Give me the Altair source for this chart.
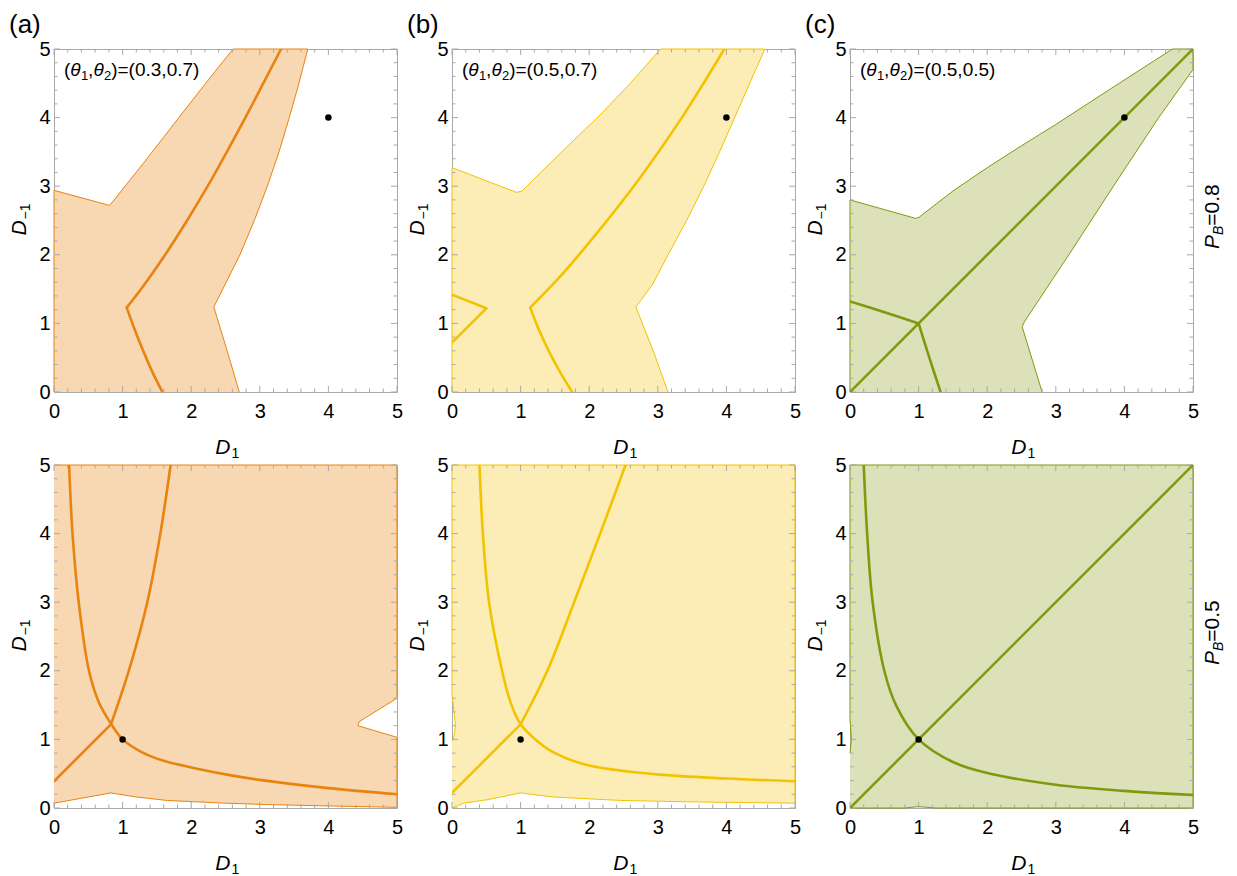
import altair as alt
import pandas as pd

W = H = 343
FONT = "Liberation Sans"
FRAME = "#a9a9a9"

ORANGE_LINE, ORANGE_FILL = "#E8830F", "#F8D8B3"
YELLOW_LINE, YELLOW_FILL = "#F3C300", "#FCEDB6"
GREEN_LINE, GREEN_FILL = "#7F9A0F", "#DCE1BA"

MAJOR = [0, 1, 2, 3, 4, 5]
MINOR = [0.2, 0.4, 0.6, 0.8, 1.2, 1.4, 1.6, 1.8, 2.2, 2.4, 2.6, 2.8,
         3.2, 3.4, 3.6, 3.8, 4.2, 4.4, 4.6, 4.8]

# ---------------- top row: P_B = 0.8 ----------------
A1_REG_X = [0, 0, 0.81, 0.90, 1.30, 1.82, 2.25, 2.61, 3.70, 3.57, 3.43, 3.28, 3.11, 2.92, 2.71, 2.49, 2.33, 2.53, 2.70]
A1_REG_Y = [0, 2.94, 2.72, 2.83, 3.33, 4.00, 4.55, 5.00, 5.00, 4.50, 4.00, 3.50, 3.00, 2.50, 2.00, 1.56, 1.24, 0.58, 0]
A1_LOW_X = [1.58, 1.43, 1.30, 1.18, 1.06]
A1_LOW_Y = [0, 0.30, 0.60, 0.90, 1.23]
A1_UP_X = [1.06, 1.27, 1.62, 1.94, 2.24, 2.52, 2.79, 3.05, 3.31]
A1_UP_Y = [1.23, 1.50, 2.00, 2.50, 3.00, 3.50, 4.00, 4.50, 5.00]

B1_REG_X = [0, 0, 0.94, 1.02, 1.63, 2.16, 2.60, 3.04, 4.56, 4.34, 4.12, 3.90, 3.67, 3.42, 3.15, 2.92, 2.68, 2.94, 3.15]
B1_REG_Y = [0, 3.27, 2.91, 2.93, 3.53, 4.04, 4.50, 5.00, 5.00, 4.50, 4.00, 3.50, 3.00, 2.50, 2.00, 1.56, 1.24, 0.58, 0]
B1_LOW_X = [1.75, 1.57, 1.41, 1.27, 1.14]
B1_LOW_Y = [0, 0.30, 0.60, 0.90, 1.23]
B1_UP_X = [1.14, 1.50, 1.85, 2.65, 3.35, 3.97]
B1_UP_Y = [1.23, 1.60, 2.00, 3.00, 4.00, 5.00]
B1_WEDGE_TOP_X = [0, 0.50]
B1_WEDGE_TOP_Y = [1.42, 1.22]
B1_WEDGE_BOT_X = [0, 0.50]
B1_WEDGE_BOT_Y = [0.72, 1.22]

C1_REG_X = [0, 0, 0.96, 1.01, 1.50, 2.00, 2.50, 3.00, 3.80, 4.70, 5, 5, 4.50, 3.84, 3.19, 2.54, 2.51, 2.80]
C1_REG_Y = [0, 2.80, 2.53, 2.55, 2.93, 3.27, 3.59, 3.90, 4.42, 5.00, 5.00, 4.70, 4.00, 3.00, 2.00, 1.02, 0.95, 0]
C1_DIAG_X = [0, 5]
C1_DIAG_Y = [0, 5]
C1_LEFT_X = [0, 0.48, 1.0]
C1_LEFT_Y = [1.32, 1.17, 1.0]
C1_DOWN_X = [1.0, 1.16, 1.32]
C1_DOWN_Y = [1.0, 0.49, 0]

# ---------------- bottom row: P_B = 0.5 ----------------
A2_REG_X = [0, 0.83, 1.20, 1.65, 2.50, 3.10, 4.00, 5, 5, 4.43, 4.45, 5, 5, 0]
A2_REG_Y = [0.07, 0.22, 0.16, 0.11, 0.07, 0.05, 0.03, 0.01, 1.03, 1.20, 1.26, 1.60, 5, 5]
A2_HYP_X = [0.22, 0.27, 0.36, 0.51, 0.65, 0.83, 1.0, 1.25, 1.5, 2.0, 2.5, 3.0, 4.0, 5.0]
A2_HYP_Y = [5, 4, 3, 2, 1.55, 1.23, 1.0, 0.83, 0.72, 0.59, 0.49, 0.41, 0.29, 0.20]
A2_RISE_LOW_X = [0, 0.83]
A2_RISE_LOW_Y = [0.39, 1.22]
A2_RISE_UP_X = [0.83, 1.09, 1.36, 1.55, 1.70]
A2_RISE_UP_Y = [1.22, 2.0, 3.0, 4.0, 5.0]

B2_REG_X = [0, 0.17, 0.51, 1.0, 1.48, 2.46, 3.43, 5, 5, 0, 0, 0.03, 0.05, 0.03, 0]
B2_REG_Y = [0, 0.07, 0.12, 0.22, 0.16, 0.11, 0.09, 0.07, 5, 5, 1.65, 1.40, 1.20, 1.05, 0.97]
B2_HYP_X = [0.40, 0.45, 0.54, 0.73, 0.85, 1.0, 1.25, 1.5, 2.0, 3.0, 4.0, 5.0]
B2_HYP_Y = [5, 4, 3, 2, 1.55, 1.22, 0.97, 0.80, 0.62, 0.49, 0.43, 0.39]
B2_RISE_LOW_X = [0, 1.0]
B2_RISE_LOW_Y = [0.22, 1.22]
B2_RISE_UP_X = [1.0, 1.39, 1.78, 2.16, 2.53]
B2_RISE_UP_Y = [1.22, 2.0, 3.0, 4.0, 5.0]

C2_REG_X = [0, 0.80, 1.00, 1.25, 5, 5, 0, 0, 0.02, 0]
C2_REG_Y = [0, 0, 0.02, 0, 0, 5, 5, 1.30, 1.00, 0.80]
C2_HYP_X = [0.20, 0.25, 0.33, 0.50, 0.67, 1.0, 1.5, 2.0, 3.0, 4.0, 5.0]
C2_HYP_Y = [5, 4, 3, 2, 1.5, 1.0, 0.67, 0.51, 0.34, 0.25, 0.19]
C2_DIAG_X = [0, 5]
C2_DIAG_Y = [0, 5]

DOT_TOP = (4, 4)
DOT_BOTTOM = (1, 1)

THETA_VALUES = ["(0.3,0.7)", "(0.5,0.7)", "(0.5,0.5)"]
LABELS = ["(a)", "(b)", "(c)"]
PB = ["=0.8", "=0.5"]

# Arial / Liberation Sans advance widths (em) for the few characters used in rich labels
ADV = {"(": 0.333, ")": 0.333, ",": 0.278, ".": 0.278, "=": 0.584, "θ": 0.556,
       "0": 0.556, "1": 0.556, "2": 0.556, "3": 0.556, "5": 0.556, "7": 0.556, "8": 0.556,
       "P": 0.667, "B": 0.667, "D": 0.722}

XS = alt.Scale(domain=[0, 5], nice=False, zero=False)
YS = alt.Scale(domain=[0, 5], nice=False, zero=False)

XAXIS = alt.Axis(values=MAJOR, format="d", ticks=False, tickSize=0, domain=False, grid=False,
                 labelFont=FONT, labelFontSize=20, labelColor="black", labelPadding=9,
                 labelFlush=False, labelOverlap=False, title=None)
YAXIS = alt.Axis(values=MAJOR, format="d", ticks=False, tickSize=0, domain=False, grid=False,
                 labelFont=FONT, labelFontSize=20, labelColor="black", labelPadding=4,
                 labelFlush=False, labelOverlap=False, title=None)


def poly_df(xs, ys):
    return pd.DataFrame({"x": xs, "y": ys, "i": list(range(len(xs)))})


def curves_df(segs):
    rows = []
    for k, (xs, ys) in enumerate(segs):
        for i, (x, y) in enumerate(zip(xs, ys)):
            rows.append({"x": x, "y": y, "i": i, "seg": k})
    return pd.DataFrame(rows)


def one_text(s):
    return pd.DataFrame({"s": [s]})


def X(f="x"):
    return alt.X(f + ":Q", scale=XS, axis=XAXIS)


def Y(f="y"):
    return alt.Y(f + ":Q", scale=YS, axis=YAXIS)


def txt(s, x, y, size, style="normal", align="left", baseline="alphabetic", angle=0, opacity=1):
    return (alt.Chart(one_text(s))
            .mark_text(font=FONT, fontSize=size, fontStyle=style, align=align, baseline=baseline,
                       angle=angle, color="black", opacity=opacity)
            .encode(text="s:N", x=alt.value(x), y=alt.value(y)))


def width(s, size):
    return sum(ADV.get(c, 0.556) for c in s) * size


def theta_label(value, x0, y0):
    """(θ1,θ2)=value with italic θ and real subscripts, laid out left to right."""
    f, fs = 19, 13
    pieces = [("(", f, "normal", 0), ("θ", f, "italic", 0), ("1", fs, "normal", 4),
              (",", f, "normal", 0), ("θ", f, "italic", 0), ("2", fs, "normal", 4),
              (")=" + value, f, "normal", 0)]
    out, x = [], x0
    for s, size, style, dy in pieces:
        out.append(txt(s, x, y0 + dy, size, style=style))
        x += width(s, size)
    return out


def panel(region, segs, dot, line_c, fill_c, label, theta, pb, top):
    layers = []
    layers.append(
        alt.Chart(poly_df(*region)).mark_line(fill=fill_c, stroke=line_c, strokeWidth=1,
                                              strokeJoin="round")
        .encode(x=X(), y=Y(), order="i:Q")
    )
    for vals, ln in [(MAJOR, 6), (MINOR, 3.5)]:
        tdf = pd.DataFrame({"x": vals, "y": vals})
        base = alt.Chart(tdf).mark_rule(color=FRAME, strokeWidth=1)
        layers.append(base.encode(x=X(), y=alt.value(H), y2=alt.value(H - ln)))
        layers.append(base.encode(x=X(), y=alt.value(0), y2=alt.value(ln)))
        layers.append(base.encode(y=Y(), x=alt.value(0), x2=alt.value(ln)))
        layers.append(base.encode(y=Y(), x=alt.value(W), x2=alt.value(W - ln)))
    layers.append(
        alt.Chart(curves_df(segs)).mark_line(stroke=line_c, strokeWidth=2.6, interpolate="catmull-rom",
                                             clip=True, strokeCap="round", strokeJoin="round")
        .encode(x=X(), y=Y(), order="i:Q", detail="seg:N")
    )
    layers.append(
        alt.Chart(pd.DataFrame({"x": [dot[0]], "y": [dot[1]]})).mark_circle(size=42, color="black", opacity=1)
        .encode(x=X(), y=Y())
    )
    # axis titles D_1 (below) and D_-1 (left), with real subscripts
    layers.append(txt("D", W / 2 + 5, H + 62, 21, style="italic", align="right"))
    layers.append(txt("1", W / 2 + 6, H + 66, 14))
    layers.append(txt("D", -28, H / 2 + 15, 21, style="italic", angle=270))
    layers.append(txt("−1", -24, H / 2 - 1, 14, angle=270))
    # panel label (invisible in bottom row: keeps the columns aligned)
    layers.append(txt(label, -45, -37 if top else 120, 26, baseline="top", opacity=1 if top else 0))
    if theta:
        layers.extend(theta_label(theta, 10, 27))
    if pb:
        y0 = 200
        layers.append(txt("P", W + 20, y0, 21, style="italic", baseline="middle", angle=270))
        y0 -= width("P", 21)
        layers.append(txt("B", W + 26, y0, 14, style="italic", baseline="middle", angle=270))
        y0 -= width("B", 14)
        layers.append(txt(pb, W + 20, y0, 21, baseline="middle", angle=270))
    return alt.layer(*layers).properties(width=W, height=H)


a1 = panel((A1_REG_X, A1_REG_Y), [(A1_LOW_X, A1_LOW_Y), (A1_UP_X, A1_UP_Y)], DOT_TOP,
           ORANGE_LINE, ORANGE_FILL, LABELS[0], THETA_VALUES[0], None, True)
b1 = panel((B1_REG_X, B1_REG_Y), [(B1_LOW_X, B1_LOW_Y), (B1_UP_X, B1_UP_Y),
                                  (B1_WEDGE_TOP_X, B1_WEDGE_TOP_Y), (B1_WEDGE_BOT_X, B1_WEDGE_BOT_Y)],
           DOT_TOP, YELLOW_LINE, YELLOW_FILL, LABELS[1], THETA_VALUES[1], None, True)
c1 = panel((C1_REG_X, C1_REG_Y), [(C1_DIAG_X, C1_DIAG_Y), (C1_LEFT_X, C1_LEFT_Y), (C1_DOWN_X, C1_DOWN_Y)],
           DOT_TOP, GREEN_LINE, GREEN_FILL, LABELS[2], THETA_VALUES[2], PB[0], True)
a2 = panel((A2_REG_X, A2_REG_Y), [(A2_HYP_X, A2_HYP_Y), (A2_RISE_LOW_X, A2_RISE_LOW_Y),
                                  (A2_RISE_UP_X, A2_RISE_UP_Y)], DOT_BOTTOM,
           ORANGE_LINE, ORANGE_FILL, LABELS[0], None, None, False)
b2 = panel((B2_REG_X, B2_REG_Y), [(B2_HYP_X, B2_HYP_Y), (B2_RISE_LOW_X, B2_RISE_LOW_Y),
                                  (B2_RISE_UP_X, B2_RISE_UP_Y)], DOT_BOTTOM,
           YELLOW_LINE, YELLOW_FILL, LABELS[1], None, None, False)
c2 = panel((C2_REG_X, C2_REG_Y), [(C2_HYP_X, C2_HYP_Y), (C2_DIAG_X, C2_DIAG_Y)], DOT_BOTTOM,
           GREEN_LINE, GREEN_FILL, LABELS[2], None, PB[1], False)

chart = alt.vconcat(
    alt.hconcat(a1, b1, c1, spacing=2),
    alt.hconcat(a2, b2, c2, spacing=2),
    spacing=-8,
).properties(padding={"left": 0, "top": 3, "right": 0, "bottom": 0}).configure_view(stroke=FRAME, strokeWidth=1)

chart.save("out.html", embed_options={"renderer": "svg", "actions": False})
